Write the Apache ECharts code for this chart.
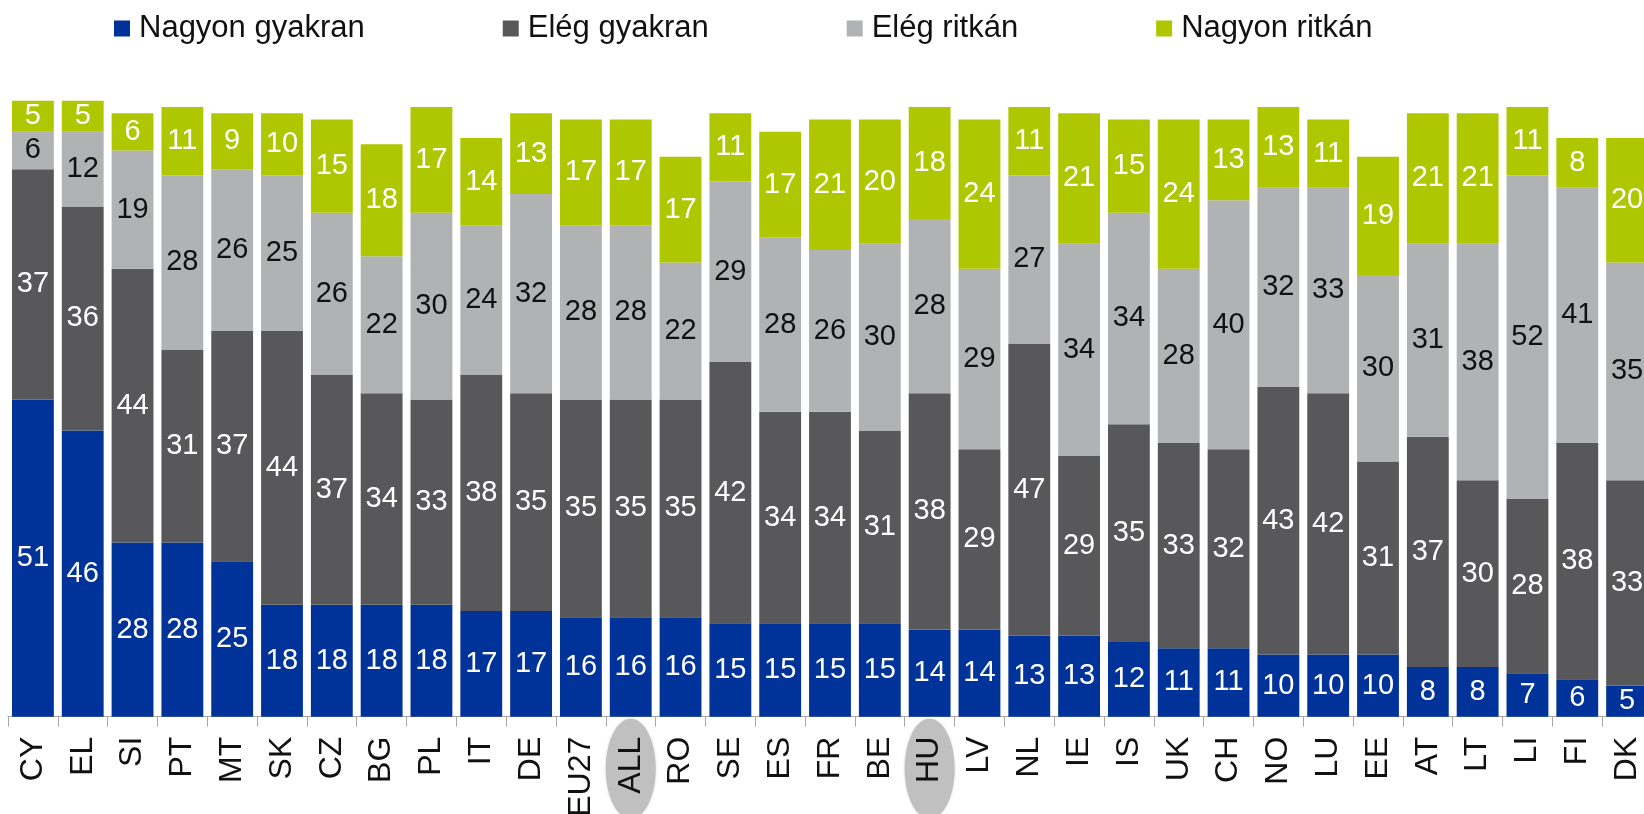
<!DOCTYPE html>
<html>
<head>
<meta charset="utf-8">
<script src="https://cdn.jsdelivr.net/npm/echarts@6/dist/echarts.min.js"></script>
<style>
    html, body { margin: 0; padding: 0; background: #fff; }
    #chart { width: 1644px; height: 814px; }
</style>
</head>
<body>
<div id="chart"></div>
<script>
// országok
var countries = ['CY', 'EL', 'SI', 'PT', 'MT', 'SK', 'CZ', 'BG', 'PL', 'IT', 'DE', 'EU27', 'ALL', 'RO', 'SE', 'ES', 'FR', 'BE', 'HU', 'LV', 'NL', 'IE', 'IS', 'UK', 'CH', 'NO', 'LU', 'EE', 'AT', 'LT', 'LI', 'FI', 'DK']
var highlighted = ['ALL', 'HU']

var nagyonGyakran = [51, 46, 28, 28, 25, 18, 18, 18, 18, 17, 17, 16, 16, 16, 15, 15, 15, 15, 14, 14, 13, 13, 12, 11, 11, 10, 10, 10, 8, 8, 7, 6, 5]
var elegGyakran = [37, 36, 44, 31, 37, 44, 37, 34, 33, 38, 35, 35, 35, 35, 42, 34, 34, 31, 38, 29, 47, 29, 35, 33, 32, 43, 42, 31, 37, 30, 28, 38, 33]
var elegRitkan = [6, 12, 19, 28, 26, 25, 26, 22, 30, 24, 32, 28, 28, 22, 29, 28, 26, 30, 28, 29, 27, 34, 34, 28, 40, 32, 33, 30, 31, 38, 52, 41, 35]
var nagyonRitkan = [5, 5, 6, 11, 9, 10, 15, 18, 17, 14, 13, 17, 17, 17, 11, 17, 21, 20, 18, 24, 11, 21, 15, 24, 13, 13, 11, 19, 21, 21, 11, 8, 20]

var FONT = 'Liberation Sans, Arial, sans-serif'

function barSeries (name, data, color, textColor) {
    return {
        name: name,
        type: 'bar',
        stack: 'total',
        barCategoryGap: '16%',
        data: data,
        itemStyle: { color: color },
        label: {
            show: true,
            position: 'inside',
            color: textColor,
            fontSize: 29,
            fontFamily: FONT
        }
    }
}

var chart = echarts.init(document.getElementById('chart'), null, { renderer: 'canvas' })

var option = {
    animation: false,
    backgroundColor: '#ffffff',
    legend: {
        left: 109,
        top: 8,
        icon: 'rect',
        itemWidth: 16,
        itemHeight: 16,
        itemGap: 138,
        textStyle: { color: '#111', fontSize: 31, fontFamily: FONT, padding: [0, 0, 0, 4] }
    },
    grid: {
        left: 8,
        right: -8,
        top: 94.5,
        bottom: 97.3,
        containLabel: false,
        outerBoundsMode: 'none'
    },
    xAxis: {
        type: 'category',
        data: countries,
        axisLine: { lineStyle: { color: '#a6a6a6', width: 1 } },
        axisTick: { show: true, length: 10, lineStyle: { color: '#a6a6a6' } },
        axisLabel: {
            rotate: 90,
            margin: 20,
            interval: 0,
            color: '#111',
            fontSize: 32,
            fontFamily: FONT
        }
    },
    yAxis: {
        type: 'value',
        min: 0,
        max: 100,
        show: false
    },
    series: [
        barSeries('Nagyon gyakran', nagyonGyakran, '#003399', '#ffffff'),
        barSeries('Elég gyakran', elegGyakran, '#58585a', '#ffffff'),
        barSeries('Elég ritkán', elegRitkan, '#b1b2b4', '#111111'),
        barSeries('Nagyon ritkán', nagyonRitkan, '#aec700', '#ffffff')
    ]
}

chart.setOption(option)

// szürke ellipszis a kiemelt címkék mögött
var baseY = chart.convertToPixel({ yAxisIndex: 0 }, 0)
var ellipses = highlighted.map(function (c) {
    return {
        type: 'ellipse',
        z: -1,
        shape: { cx: chart.convertToPixel({ xAxisIndex: 0 }, c), cy: baseY + 52, rx: 25, ry: 50 },
        style: { fill: '#c0c0c0', shadowBlur: 3, shadowColor: 'rgba(0,0,0,0.15)' }
    }
})
chart.setOption({ graphic: { elements: ellipses } })
</script>
</body>
</html>
